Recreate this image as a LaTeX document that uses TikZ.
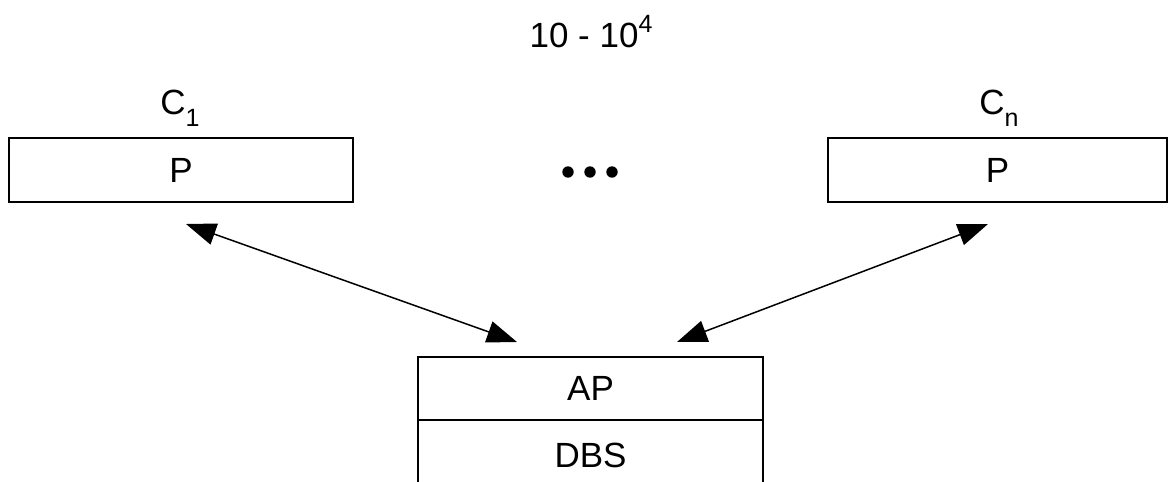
\documentclass[tikz,border=0pt]{standalone}
\usepackage{fontspec}
\setmainfont{Liberation Sans}
\usetikzlibrary{arrows.meta}

% raised and lowered indices in the label font
\newcommand{\upidx}[1]{\raisebox{14.6pt}{\fontsize{25}{25}\selectfont #1}}
\newcommand{\lowidx}[1]{\raisebox{-12.5pt}{\fontsize{25}{25}\selectfont #1}}

\tikzset{
  lbl/.style={font=\fontsize{35}{42}\selectfont, inner sep=0pt, anchor=base},
  pbox/.style={draw, line width=1.5pt, minimum height=64pt,
               inner sep=0pt, font=\fontsize{35}{42}\selectfont},
  srvbox/.style={draw, line width=1.5pt, minimum width=345pt, minimum height=63pt,
               inner sep=0pt, font=\fontsize{35}{42}\selectfont},
  link/.style={line width=1.5pt,
               {Triangle[length=30pt,width=22pt]}-{Triangle[length=30pt,width=22pt]}},
  dot/.style={fill=black}
}

\begin{document}
\begin{tikzpicture}[x=1pt,y=-1pt]
  \useasboundingbox (0,0) rectangle (1168,482);
  \clip (0,0) rectangle (1168,482);

  % population size
  \node[lbl] (range) at (591,47.5) {10 - 10\upidx{4}};

  % client processes
  \node[pbox, minimum width=344pt] (p1) at (181,170) {P};
  \node[pbox, minimum width=339pt] (pn) at (997.5,170) {P};
  \node[lbl] (c1) at (180,114) {C\lowidx{1}};
  \node[lbl] (cn) at (999,114) {C\lowidx{n}};

  % ellipsis between clients
  \fill[dot] (568,172) circle (5.7);
  \fill[dot] (590,172) circle (5.7);
  \fill[dot] (612,172) circle (5.7);

  % server: application process over database system
  \node[srvbox] (ap) at (590.5,388.5) {AP};
  \node[srvbox, minimum height=80pt] (dbs) at (590.5,460) {};
  \node[lbl] (dbstext) at (590.5,467) {DBS};

  % connection end points
  \coordinate (a1) at (186,224);
  \coordinate (b1) at (517,342);
  \coordinate (an) at (988,224);
  \coordinate (bn) at (677,342);

  \draw[link] (a1) -- (b1);
  \draw[link] (an) -- (bn);
\end{tikzpicture}
\end{document}
